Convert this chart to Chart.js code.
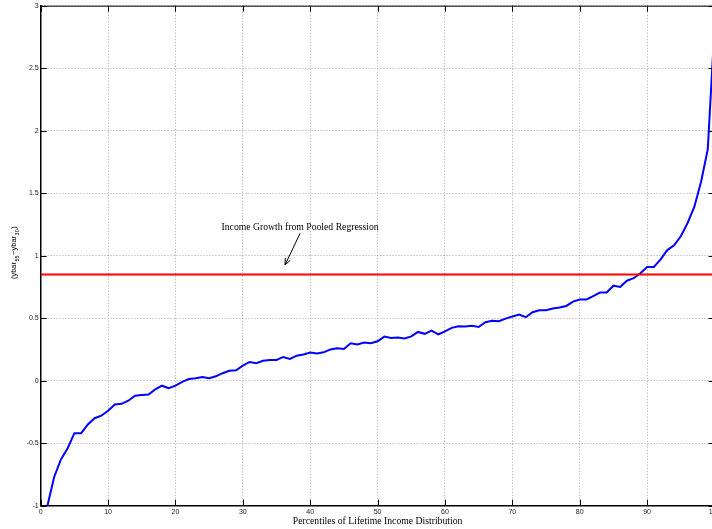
<!DOCTYPE html>
<html>
<head>
<meta charset="utf-8">
<script src="https://cdn.jsdelivr.net/npm/chart.js@4/dist/chart.umd.min.js"></script>
<style>
  html, body { margin: 0; padding: 0; background: #fff; overflow: hidden; }
  canvas { display: block; }
</style>
</head>
<body>
<canvas id="growthChart" width="716" height="529"></canvas>
<script>
// percentiles of lifetime income (x) and the growth ybar_55 - ybar_30 (y)
const percentiles = [
  1, 2, 3, 4, 5, 6, 7, 8, 9, 10, 11, 12, 13, 14, 15, 16, 17, 18, 19, 20,
  21, 22, 23, 24, 25, 26, 27, 28, 29, 30, 31, 32, 33, 34, 35, 36, 37, 38, 39, 40,
  41, 42, 43, 44, 45, 46, 47, 48, 49, 50, 51, 52, 53, 54, 55, 56, 57, 58, 59, 60,
  61, 62, 63, 64, 65, 66, 67, 68, 69, 70, 71, 72, 73, 74, 75, 76, 77, 78, 79, 80,
  81, 82, 83, 84, 85, 86, 87, 88, 89, 90, 91, 92, 93, 94, 95, 96, 97, 98, 99, 100
];
const growth = [
  -1.00, -0.77, -0.63, -0.54, -0.42, -0.42, -0.35, -0.30, -0.28, -0.24,
  -0.19, -0.185, -0.16, -0.12, -0.115, -0.11, -0.07, -0.04, -0.06, -0.04,
  -0.01, 0.013, 0.019, 0.03, 0.02, 0.035, 0.06, 0.08, 0.083, 0.12,
  0.15, 0.14, 0.16, 0.166, 0.166, 0.19, 0.174, 0.20, 0.21, 0.225,
  0.217, 0.227, 0.25, 0.26, 0.254, 0.30, 0.29, 0.305, 0.30, 0.315,
  0.353, 0.342, 0.345, 0.338, 0.354, 0.39, 0.375, 0.40, 0.37, 0.394,
  0.423, 0.436, 0.434, 0.44, 0.43, 0.468, 0.479, 0.476, 0.497, 0.513,
  0.53, 0.508, 0.548, 0.564, 0.564, 0.577, 0.585, 0.598, 0.633, 0.65,
  0.65, 0.677, 0.705, 0.706, 0.76, 0.75, 0.80, 0.82, 0.86, 0.91,
  0.91, 0.97, 1.045, 1.083, 1.155, 1.26, 1.39, 1.59, 1.85, 2.83
];
const pooledGrowth = 0.85;
const pooledRange = [0, 100];

const xTicks = [0, 10, 20, 30, 40, 50, 60, 70, 80, 90, 100];
const yTicks = [-1, -0.5, 0, 0.5, 1, 1.5, 2, 2.5, 3];

const noteText = 'Income Growth from Pooled Regression';
const noteAt = { x: 38.5, y: 1.222 };
const arrowFrom = { x: 38.5, y: 1.179 };
const arrowTo = { x: 36.26, y: 0.926 };

const tickFont = { family: '"Liberation Sans", Arial, sans-serif', size: 7 };
const serif = '"Liberation Serif", "Times New Roman", serif';

// squash the scale's own padding so the plot box sits where the figure has it
const fixBox = (w, h) => (scale) => {
  if (w !== null) scale.width = w;
  if (h !== null) scale.height = h;
  scale.paddingLeft = 0; scale.paddingRight = 0;
  scale.paddingTop = 0; scale.paddingBottom = 0;
};

// top/right frame, inward ticks, y label with subscripts, and the arrow note
const framePlugin = {
  id: 'frame',
  afterDraw(chart) {
    const { ctx, chartArea: a, scales: { x, y } } = chart;
    ctx.save();
    ctx.strokeStyle = '#000';
    ctx.lineWidth = 1;
    ctx.beginPath();
    ctx.moveTo(a.left, a.top + 0.5);
    ctx.lineTo(a.right, a.top + 0.5);
    ctx.lineTo(a.right, a.bottom);
    ctx.stroke();

    ctx.beginPath();
    xTicks.forEach(v => {
      const px = Math.round(x.getPixelForValue(v)) + 0.5;
      ctx.moveTo(px, a.bottom); ctx.lineTo(px, a.bottom - 6);
      ctx.moveTo(px, a.top); ctx.lineTo(px, a.top + 6);
    });
    yTicks.forEach(v => {
      const py = Math.round(y.getPixelForValue(v)) + 0.5;
      ctx.moveTo(a.left, py); ctx.lineTo(a.left + 6, py);
      ctx.moveTo(a.right, py); ctx.lineTo(a.right - 6, py);
    });
    ctx.stroke();

    // y axis label: (ybar_55 - ybar_30)
    const cy = (a.top + a.bottom) / 2 - 3;
    ctx.translate(14, cy);
    ctx.rotate(-Math.PI / 2);
    const parts = [
      { t: '(ybar', sub: false }, { t: '55', sub: true },
      { t: '\u2212ybar', sub: false }, { t: '30', sub: true }, { t: ')', sub: false }
    ];
    const big = '7.5px "Liberation Sans", Arial, sans-serif';
    const small = '5.5px "Liberation Sans", Arial, sans-serif';
    let total = 0;
    parts.forEach(p => { ctx.font = p.sub ? small : big; p.w = ctx.measureText(p.t).width + (p.sub ? 1 : 0); total += p.w; });
    let cx = -total / 2;
    ctx.fillStyle = '#000';
    ctx.textBaseline = 'middle';
    ctx.textAlign = 'left';
    parts.forEach(p => {
      ctx.font = p.sub ? small : big;
      ctx.fillText(p.t, cx + (p.sub ? 0.5 : 0), p.sub ? 3 : 0);
      cx += p.w;
    });
    ctx.setTransform(1, 0, 0, 1, 0, 0);

    // note with arrow
    ctx.font = '9.7px ' + serif;
    ctx.textAlign = 'center';
    ctx.textBaseline = 'middle';
    ctx.fillText(noteText, x.getPixelForValue(noteAt.x), y.getPixelForValue(noteAt.y));
    const x1 = x.getPixelForValue(arrowFrom.x), y1 = y.getPixelForValue(arrowFrom.y);
    const x2 = x.getPixelForValue(arrowTo.x), y2 = y.getPixelForValue(arrowTo.y);
    const ang = Math.atan2(y2 - y1, x2 - x1);
    ctx.beginPath();
    ctx.moveTo(x1, y1); ctx.lineTo(x2, y2);
    ctx.moveTo(x2, y2); ctx.lineTo(x2 - 7 * Math.cos(ang - 0.4), y2 - 7 * Math.sin(ang - 0.4));
    ctx.moveTo(x2, y2); ctx.lineTo(x2 - 7 * Math.cos(ang + 0.4), y2 - 7 * Math.sin(ang + 0.4));
    ctx.stroke();
    ctx.restore();
  }
};

const ctx = document.getElementById('growthChart').getContext('2d');

new Chart(ctx, {
  type: 'scatter',
  data: {
    datasets: [
      {
        label: 'Pooled regression',
        data: pooledRange.map(p => ({ x: p, y: pooledGrowth })),
        showLine: true,
        borderColor: '#ff0000',
        borderWidth: 2,
        pointRadius: 0
      },
      {
        label: 'ybar55 - ybar30',
        data: percentiles.map((p, i) => ({ x: p, y: growth[i] })),
        showLine: true,
        borderColor: '#0000ff',
        borderWidth: 2,
        pointRadius: 0,
        tension: 0
      }
    ]
  },
  options: {
    responsive: false,
    animation: false,
    devicePixelRatio: 1,
    layout: { padding: { top: 5.7, right: 1.5, bottom: 0, left: 0 } },
    plugins: {
      legend: { display: false },
      tooltip: { enabled: false }
    },
    scales: {
      x: {
        type: 'linear',
        min: 0,
        max: 100,
        afterFit: fixBox(null, 23.3),
        afterBuildTicks: (scale) => { scale.ticks = xTicks.map(v => ({ value: v })); },
        ticks: {
          font: tickFont,
          color: '#222',
          padding: 2,
          maxRotation: 0,
          autoSkip: false,
          callback: (v) => String(v)
        },
        grid: { color: '#a6a6a6', lineWidth: 1, drawTicks: false },
        border: { color: '#000', width: 1.5, dash: [1, 2] },
        title: {
          display: true,
          text: 'Percentiles of Lifetime Income Distribution',
          font: { family: serif, size: 9.7 },
          color: '#000',
          padding: { top: 0, bottom: 1.5 }
        }
      },
      y: {
        type: 'linear',
        min: -1,
        max: 3,
        afterFit: fixBox(40.7, null),
        afterBuildTicks: (scale) => { scale.ticks = yTicks.map(v => ({ value: v })); },
        ticks: {
          font: tickFont,
          color: '#222',
          padding: 2,
          autoSkip: false,
          callback: (v) => String(v)
        },
        grid: { color: '#a6a6a6', lineWidth: 1, drawTicks: false },
        border: { color: '#000', width: 1.5, dash: [1, 2] }
      }
    }
  },
  plugins: [framePlugin]
});
</script>
</body>
</html>
